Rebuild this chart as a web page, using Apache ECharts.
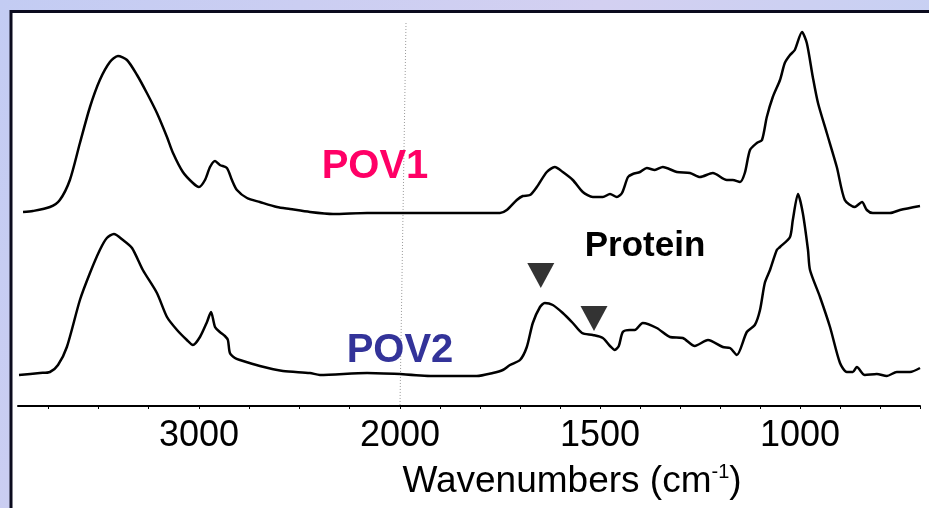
<!DOCTYPE html>
<html><head><meta charset="utf-8">
<script src="https://cdn.jsdelivr.net/npm/echarts@6/dist/echarts.min.js"></script>
<style>html,body{margin:0;padding:0;background:#c9cff2;}#c{width:929px;height:508px;}</style>
</head><body><div id="c"></div>
<script>
// Wavenumbers (cm-1) and relative absorbance (offset stacked)
const pov1Wn = [3875,3826,3741,3692,3642,3592,3542,3493,3443,3403,3358,3308,3259,3209,3159,3129,3080,3030,3000,2970,2945,2920,2896,2861,2836,2811,2761,2697,2612,2547,2448,2333,2164,2000,
  1918,1833,1750,1733,1708,1693,1675,1658,1633,1613,1593,1568,1543,1518,1493,1475,1458,1445,1430,1418,1400,1383,1363,1343,1308,1275,1250,1218,1183,1168,1150,1138,1125,1108,1095,1083,1068,1050,1038,1025,1013,995,983,968,955,933,908,888,863,845,833,818,775,750,700];
const pov1Abs = [1.94,1.95,1.99,2.06,2.26,2.63,2.99,3.26,3.44,3.50,3.46,3.31,3.13,2.93,2.69,2.53,2.34,2.23,2.19,2.26,2.39,2.45,2.41,2.38,2.26,2.16,2.08,2.04,1.99,1.97,1.94,1.92,1.93,1.93,
  1.93,1.93,1.93,1.96,2.06,2.10,2.11,2.19,2.34,2.39,2.34,2.26,2.14,2.09,2.09,2.12,2.09,2.13,2.29,2.32,2.34,2.38,2.36,2.39,2.34,2.33,2.29,2.33,2.26,2.26,2.24,2.33,2.56,2.63,2.66,2.89,3.09,3.26,3.43,3.51,3.56,3.74,3.63,3.29,3.03,2.73,2.39,2.06,1.99,2.04,1.96,1.93,1.93,1.96,2.00];
const pov2Wn = [3895,3791,3741,3701,3657,3592,3542,3493,3458,3423,3378,3333,3279,3209,3159,3109,3060,3030,2995,2960,2940,2920,2896,2871,2856,2846,2821,2796,2697,2582,2448,2398,2164,2000,
  1918,1808,1768,1743,1725,1700,1683,1668,1650,1638,1618,1593,1568,1545,1518,1493,1475,1463,1453,1443,1425,1413,1393,1358,1325,1293,1263,1230,1193,1175,1158,1133,1113,1100,1088,1075,1058,1050,1025,1018,1005,993,980,975,950,925,900,883,868,858,838,808,783,758,725,700];
const pov2Abs = [0.31,0.33,0.34,0.41,0.59,1.06,1.33,1.56,1.68,1.72,1.66,1.58,1.36,1.13,0.89,0.76,0.66,0.61,0.69,0.84,0.94,0.79,0.74,0.70,0.66,0.53,0.48,0.46,0.40,0.35,0.33,0.31,0.33,0.32,
  0.30,0.30,0.33,0.36,0.41,0.46,0.59,0.83,0.99,1.03,1.01,0.93,0.83,0.73,0.71,0.68,0.60,0.56,0.60,0.74,0.76,0.76,0.83,0.78,0.69,0.68,0.60,0.66,0.59,0.58,0.51,0.74,0.81,0.96,1.23,1.36,1.56,1.59,1.69,1.86,2.12,1.93,1.56,1.36,1.09,0.79,0.43,0.34,0.34,0.39,0.31,0.32,0.30,0.34,0.34,0.38];
// Protein band markers (amide I, amide II)
const markerWn = [1648, 1515];
const markerAbs = [1.305, 0.875];
// Tick labels shown
const leftTickLabels = [3000];
const rightTickLabels = [2000, 1500, 1000];
const seriesNames = ['POV1', 'POV2'];

function part(wn, ab, left) {
  const out = [];
  for (let i = 0; i < wn.length; i++) {
    if (left ? wn[i] >= 2000 : wn[i] <= 2000) out.push([wn[i], ab[i]]);
  }
  return out;
}
const FONT = 'Liberation Sans, Arial, Helvetica, sans-serif';
const chart = echarts.init(document.getElementById('c'), null, {renderer: 'canvas'});
const axisCommon = {
  type: 'value', inverse: true,
  axisLine: {lineStyle: {color: '#000', width: 2}},
  axisTick: {length: 3, lineStyle: {color: '#000', width: 1}},
  splitLine: {show: false},
  axisLabel: {color: '#000', fontSize: 36, fontFamily: FONT, margin: 12, showMinLabel: true, showMaxLabel: true}
};
const lineCommon = {type: 'line', showSymbol: false, smooth: 0.25, lineStyle: {color: '#000', width: 2.5}, z: 5, silent: true};
chart.setOption({
  animation: false,
  backgroundColor: new echarts.graphic.LinearGradient(0, 0, 1, 1, [
    {offset: 0, color: '#c3ccf3'}, {offset: 0.5, color: '#d3d0f1'}, {offset: 1, color: '#bfd0f4'}]),
  grid: [
    {left: 18, top: 11, width: 382, height: 395},
    {left: 400, top: 11, width: 520, height: 395}
  ],
  xAxis: [
    Object.assign({}, axisCommon, {gridIndex: 0, min: 2000, max: 3900, interval: 250,
      axisLabel: Object.assign({}, axisCommon.axisLabel, {showMaxLabel: false, showMinLabel: false,
        formatter: v => leftTickLabels.includes(v) ? String(v) : ''})}),
    Object.assign({}, axisCommon, {gridIndex: 1, min: 700, max: 2000, interval: 100,
      axisLabel: Object.assign({}, axisCommon.axisLabel, {
        formatter: v => rightTickLabels.includes(v) ? String(v) : ''})})
  ],
  yAxis: [
    {type: 'value', gridIndex: 0, min: 0, max: 3.95, show: false},
    {type: 'value', gridIndex: 1, min: 0, max: 3.95, show: false}
  ],
  series: [
    Object.assign({}, lineCommon, {name: seriesNames[0], xAxisIndex: 0, yAxisIndex: 0, data: part(pov1Wn, pov1Abs, true)}),
    Object.assign({}, lineCommon, {name: seriesNames[0], xAxisIndex: 1, yAxisIndex: 1, data: part(pov1Wn, pov1Abs, false)}),
    Object.assign({}, lineCommon, {name: seriesNames[1], xAxisIndex: 0, yAxisIndex: 0, data: part(pov2Wn, pov2Abs, true)}),
    Object.assign({}, lineCommon, {name: seriesNames[1], xAxisIndex: 1, yAxisIndex: 1, data: part(pov2Wn, pov2Abs, false)}),
    {type: 'scatter', xAxisIndex: 1, yAxisIndex: 1, symbol: 'triangle', symbolRotate: 180, symbolSize: [27, 25],
      itemStyle: {color: '#333333', opacity: 1}, silent: true, z: 6,
      data: markerWn.map((w, i) => [w, markerAbs[i]])}
  ],
  graphic: [
    {type: 'rect', z: -10, silent: true, shape: {x: 11, y: 11.5, width: 960, height: 540},
      style: {fill: '#ffffff', stroke: '#0b0b1e', lineWidth: 3}},
    {type: 'line', z: 1, silent: true, shape: {x1: 406, y1: 23, x2: 400, y2: 405},
      style: {stroke: '#9a9a9a', lineWidth: 1, lineDash: [1, 2]}},
    {type: 'text', z: 10, x: 375, y: 167, silent: true,
      style: {text: seriesNames[0], fill: '#ff0066', font: 'bold 40px ' + FONT, textAlign: 'center', textVerticalAlign: 'middle'}},
    {type: 'text', z: 10, x: 400, y: 351, silent: true,
      style: {text: seriesNames[1], fill: '#333399', font: 'bold 40px ' + FONT, textAlign: 'center', textVerticalAlign: 'middle'}},
    {type: 'text', z: 10, x: 645, y: 246, silent: true,
      style: {text: 'Protein', fill: '#000', font: 'bold 35px ' + FONT, textAlign: 'center', textVerticalAlign: 'middle'}},
    {type: 'text', z: 10, x: 572, y: 482, silent: true,
      style: {text: '{m|Wavenumbers (cm}{s|-1}{m|)}', textAlign: 'center', textVerticalAlign: 'middle',
        rich: {
          m: {fontSize: 37, fontFamily: FONT, fill: '#000', color: '#000', lineHeight: 40},
          s: {fontSize: 20, fontFamily: FONT, fill: '#000', color: '#000', lineHeight: 20, verticalAlign: 'top'}
        }}}
  ]
});
</script></body></html>
